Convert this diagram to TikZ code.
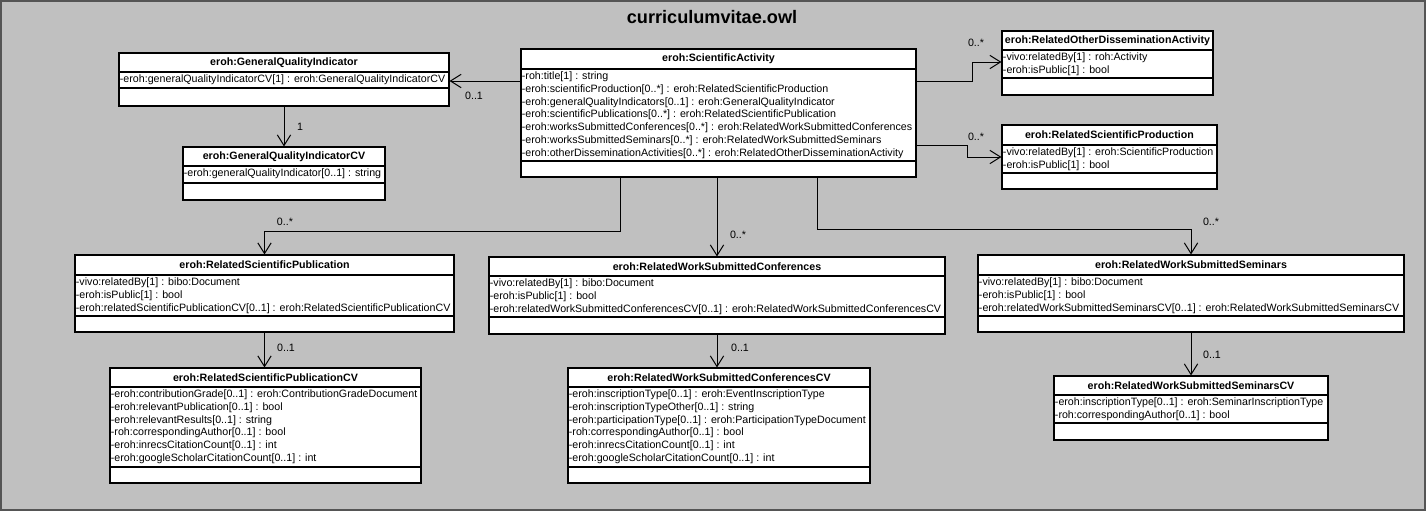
\documentclass[tikz,border=0pt]{standalone}
\usepackage{fontspec}
\setmainfont{Liberation Sans}
\usetikzlibrary{fit,arrows.meta}
\definecolor{bggray}{HTML}{C0C0C0}
\definecolor{framegray}{HTML}{555555}
\newcommand{\umlcls}[9]{%
  \node[clsbox, fit={(#2,#3)(#4,#7)}] (#1) {};
  \draw[clsline] (#2,#5) -- (#4,#5);
  \draw[clsline] (#2,#6) -- (#4,#6);
  \node[clstitle] (#1-t) at ({(#2+#4)/2},{(#3+#5)/2}) {#8};
  \node[clsattr] (#1-a) at (#2,#5) {#9};
}
\begin{document}
\begin{tikzpicture}[x=0.75pt,y=-0.75pt,
  clsbox/.style={draw=black, fill=white, line width=0.8pt, inner sep=0pt},
  clsline/.style={draw=black, line width=0.8pt},
  clstitle/.style={font=\fontsize{8}{9.6}\selectfont\bfseries, inner sep=0pt},
  clsattr/.style={font=\fontsize{8}{9.6}\selectfont, align=left, anchor=north west, inner xsep=0.5pt, inner ysep=1.8pt},
  mult/.style={font=\fontsize{8}{9.6}\selectfont, inner sep=0pt},
  assoc/.style={draw=black, line width=0.75pt, -{Straight Barb[length=8pt,width=10pt]}}]
\useasboundingbox (0,0) rectangle (1426,511);
\draw[draw=framegray, fill=bggray, line width=1.6pt] (1,1) rectangle (1425,510);
\node[font=\fontsize{13.6}{15}\selectfont\bfseries] (title) at (712,17) {curriculumvitae.owl};

\umlcls{gqi}{119}{53}{449}{72}{88}{106}{eroh:GeneralQualityIndicator}{-eroh:generalQualityIndicatorCV[1] : eroh:GeneralQualityIndicatorCV}
\umlcls{gqicv}{183}{147}{385}{166}{183}{200}{eroh:GeneralQualityIndicatorCV}{-eroh:generalQualityIndicator[0..1] : string}
\umlcls{sa}{521}{49}{916}{69}{161}{177}{eroh:ScientificActivity}{-roh:title[1] : string\\
-eroh:scientificProduction[0..*] : eroh:RelatedScientificProduction\\
-eroh:generalQualityIndicators[0..1] : eroh:GeneralQualityIndicator\\
-eroh:scientificPublications[0..*] : eroh:RelatedScientificPublication\\
-eroh:worksSubmittedConferences[0..*] : eroh:RelatedWorkSubmittedConferences\\
-eroh:worksSubmittedSeminars[0..*] : eroh:RelatedWorkSubmittedSeminars\\
-eroh:otherDisseminationActivities[0..*] : eroh:RelatedOtherDisseminationActivity}
\umlcls{roda}{1002}{31}{1213}{50}{78}{95}{eroh:RelatedOtherDisseminationActivity}{-vivo:relatedBy[1] : roh:Activity\\
-eroh:isPublic[1] : bool}
\umlcls{rsprod}{1002}{125}{1217}{145}{173}{189}{eroh:RelatedScientificProduction}{-vivo:relatedBy[1] : eroh:ScientificProduction\\
-eroh:isPublic[1] : bool}
\umlcls{rspub}{75}{255}{454}{275}{316}{332}{eroh:RelatedScientificPublication}{-vivo:relatedBy[1] : bibo:Document\\
-eroh:isPublic[1] : bool\\
-eroh:relatedScientificPublicationCV[0..1] : eroh:RelatedScientificPublicationCV}
\umlcls{rspubcv}{110}{368}{421}{387}{467}{483}{eroh:RelatedScientificPublicationCV}{-eroh:contributionGrade[0..1] : eroh:ContributionGradeDocument\\
-eroh:relevantPublication[0..1] : bool\\
-eroh:relevantResults[0..1] : string\\
-roh:correspondingAuthor[0..1] : bool\\
-eroh:inrecsCitationCount[0..1] : int\\
-eroh:googleScholarCitationCount[0..1] : int}
\umlcls{rwsc}{489}{257}{945}{276}{317}{334}{eroh:RelatedWorkSubmittedConferences}{-vivo:relatedBy[1] : bibo:Document\\
-eroh:isPublic[1] : bool\\
-eroh:relatedWorkSubmittedConferencesCV[0..1] : eroh:RelatedWorkSubmittedConferencesCV}
\umlcls{rwsccv}{568}{368}{870}{387}{467}{483}{eroh:RelatedWorkSubmittedConferencesCV}{-eroh:inscriptionType[0..1] : eroh:EventInscriptionType\\
-eroh:inscriptionTypeOther[0..1] : string\\
-eroh:participationType[0..1] : eroh:ParticipationTypeDocument\\
-roh:correspondingAuthor[0..1] : bool\\
-eroh:inrecsCitationCount[0..1] : int\\
-eroh:googleScholarCitationCount[0..1] : int}
\umlcls{rwss}{978}{255}{1404}{275}{316}{332}{eroh:RelatedWorkSubmittedSeminars}{-vivo:relatedBy[1] : bibo:Document\\
-eroh:isPublic[1] : bool\\
-eroh:relatedWorkSubmittedSeminarsCV[0..1] : eroh:RelatedWorkSubmittedSeminarsCV}
\umlcls{rwsscv}{1054}{376}{1328}{395}{423}{440}{eroh:RelatedWorkSubmittedSeminarsCV}{-eroh:inscriptionType[0..1] : eroh:SeminarInscriptionType\\
-roh:correspondingAuthor[0..1] : bool}

% connectors
\draw[assoc] (sa.west |- 0,81) -- (gqi.east |- 0,81);
\draw[assoc] (sa.east |- 0,81) -- (972,81) -- (972,62) -- (roda.west |- 0,62);
\draw[assoc] (sa.east |- 0,145) -- (967,145) -- (967,157) -- (rsprod.west |- 0,157);
\draw[assoc] (sa.south -| 620,0) -- (620,231) -- (rspub.north |- 0,231) -- (rspub.north);
\draw[assoc] (sa.south -| rwsc.north) -- (rwsc.north);
\draw[assoc] (sa.south -| 817,0) -- (817,229) -- (rwss.north |- 0,229) -- (rwss.north);
\draw[assoc] (gqi.south) -- (gqicv.north);
\draw[assoc] (rspub.south) -- (rspub.south |- rspubcv.north);
\draw[assoc] (rwsc.south) -- (rwsc.south |- rwsccv.north);
\draw[assoc] (rwss.south) -- (rwss.south |- rwsscv.north);

% multiplicities
\node[mult] (m1) at (474,96) {0..1};
\node[mult] (m2) at (976,43) {0..*};
\node[mult] (m3) at (976,137) {0..*};
\node[mult] (m4) at (285,222) {0..*};
\node[mult] (m5) at (738,235) {0..*};
\node[mult] (m6) at (1211,222) {0..*};
\node[mult] (m7) at (300,127) {1};
\node[mult] (m8) at (286,348) {0..1};
\node[mult] (m9) at (740,348) {0..1};
\node[mult] (m10) at (1212,355) {0..1};
\end{tikzpicture}
\end{document}
